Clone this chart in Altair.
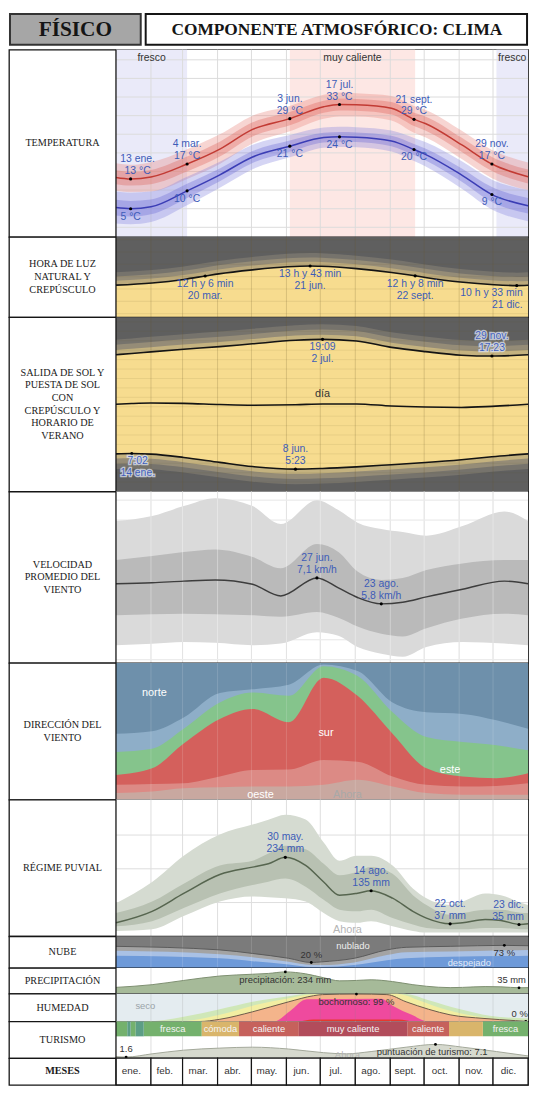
import altair as alt
import pandas as pd

# ---------------- data ----------------
MONTHS = ["ene.", "feb.", "mar.", "abr.", "may.", "jun.", "jul.", "ago.", "sept.", "oct.", "nov.", "dic."]
MONTH_START = [0, 31, 59, 90, 120, 151, 181, 212, 243, 273, 304, 334]
MONTH_END = [31, 59, 90, 120, 151, 181, 212, 243, 273, 304, 334, 365]
GRID_DAYS = MONTH_START[1:]

# temperature (°C)
TEMP_DAYS = [0, 13, 31, 63, 92, 121, 154, 184, 198, 213, 244, 264, 274, 306, 333, 365]
TEMP_HIGH = [13.4, 13.0, 13.5, 17.0, 21.0, 26.3, 29.2, 32.4, 33.0, 32.9, 32.0, 29.0, 27.9, 22.2, 17.0, 13.6]
HIGH_P90 = [17.2, 16.8, 17.5, 21.0, 25.0, 30.0, 32.6, 35.6, 36.2, 36.0, 35.3, 32.6, 31.6, 26.0, 20.8, 17.4]
HIGH_P75 = [15.3, 14.9, 15.4, 19.0, 23.0, 28.2, 31.0, 34.0, 34.6, 34.5, 33.7, 30.8, 29.8, 24.1, 18.9, 15.5]
HIGH_P25 = [11.6, 11.2, 11.6, 15.0, 19.0, 24.4, 27.4, 30.8, 31.4, 31.3, 30.3, 27.2, 26.0, 20.3, 15.1, 11.8]
HIGH_P10 = [9.8, 9.4, 9.6, 13.0, 17.0, 22.5, 25.8, 29.2, 29.8, 29.8, 28.7, 25.4, 24.2, 18.4, 13.2, 10.0]
TEMP_LOW = [5.3, 5.0, 5.5, 9.8, 14.1, 18.9, 21.8, 24.1, 24.3, 24.2, 23.2, 20.9, 19.6, 14.1, 8.8, 5.8]
LOW_P90 = [9.6, 9.3, 9.6, 13.6, 17.6, 22.2, 24.8, 26.8, 27.0, 26.9, 26.0, 24.0, 22.9, 17.8, 12.8, 10.0]
LOW_P75 = [7.4, 7.1, 7.5, 11.7, 15.8, 20.5, 23.3, 25.4, 25.6, 25.5, 24.6, 22.4, 21.2, 15.9, 10.8, 7.9]
LOW_P25 = [3.2, 2.9, 3.5, 7.9, 12.4, 17.3, 20.3, 22.8, 23.0, 22.9, 21.8, 19.4, 18.0, 12.3, 6.8, 3.7]
LOW_P10 = [1.0, 0.8, 1.4, 5.9, 10.6, 15.6, 18.8, 21.4, 21.6, 21.5, 20.4, 17.8, 16.4, 10.4, 4.8, 1.6]
HIGH_NOTE_DAYS = [13, 63, 154, 198, 264, 333]
HIGH_NOTE_VALS = [13.0, 17.0, 29.2, 33.0, 29.0, 17.0]
HIGH_NOTE_TEXT = ["13 ene.\n13 °C", "4 mar.\n17 °C", "3 jun.\n29 °C", "17 jul.\n33 °C", "21 sept.\n29 °C", "29 nov.\n17 °C"]
LOW_NOTE_DAYS = [13, 63, 154, 198, 264, 333]
LOW_NOTE_VALS = [5.0, 9.8, 21.8, 24.3, 20.9, 8.8]
LOW_NOTE_TEXT = ["5 °C", "10 °C", "21 °C", "24 °C", "20 °C", "9 °C"]
ZONE_NAME = ["fresco", "muy caliente", "fresco"]
ZONE_START = [0, 154, 337]
ZONE_END = [63, 265, 365]

# daylight (hours)
LUZ_DAYS = [0, 32, 60, 79, 91, 121, 152, 172, 182, 213, 244, 265, 274, 305, 335, 355, 365]
LUZ_HOURS = [10.62, 10.98, 11.55, 12.10, 12.45, 13.10, 13.60, 13.72, 13.68, 13.30, 12.68, 12.13, 11.87, 11.12, 10.68, 10.55, 10.60]
LUZ_NOTE_DAYS = [79, 172, 265, 355]
LUZ_NOTE_VALS = [12.10, 13.72, 12.13, 10.55]
LUZ_NOTE_TEXT = ["12 h y 6 min\n20 mar.", "13 h y 43 min\n21 jun.", "12 h y 8 min\n22 sept.", "10 h y 33 min\n21 dic."]

# sunrise / sunset (hour of day)
SOL_DAYS = [0, 14, 31, 60, 92, 121, 159, 183, 213, 244, 274, 306, 333, 365]
SUNRISE = [7.00, 7.03, 6.97, 6.62, 6.10, 5.65, 5.38, 5.45, 5.62, 5.85, 6.08, 6.38, 6.70, 7.00]
SUNSET = [17.52, 17.65, 17.82, 18.10, 18.38, 18.68, 19.05, 19.15, 18.98, 18.30, 17.85, 17.47, 17.38, 17.52]
SOL_NOTE_DAYS = [183, 333, 159, 14]
SOL_NOTE_VALS = [19.15, 17.38, 5.38, 7.03]
SOL_NOTE_TEXT = ["19:09\n2 jul.", "29 nov.\n17:23", "8 jun.\n5:23", "7:02\n14 ene."]

# wind speed (km/h)
VEL_DAYS = [0, 32, 60, 88, 121, 146, 178, 197, 214, 235, 254, 275, 307, 344, 365]
VEL_AVG = [6.81, 6.86, 6.94, 7.00, 6.78, 6.20, 7.10, 6.60, 6.12, 5.80, 5.88, 6.15, 6.53, 6.94, 6.81]
VEL_P75 = [8.00, 8.20, 8.40, 8.53, 8.15, 7.58, 8.80, 8.40, 7.42, 7.00, 7.10, 7.50, 7.83, 8.00, 8.00]
VEL_P25 = [5.23, 5.28, 5.31, 5.28, 5.23, 5.15, 5.39, 5.10, 4.66, 4.30, 4.17, 4.58, 5.07, 5.31, 5.23]
VEL_P90 = [9.95, 10.20, 10.70, 11.10, 10.70, 9.80, 11.00, 10.50, 9.87, 9.55, 9.40, 9.22, 9.70, 10.43, 9.95]
VEL_P10 = [3.73, 3.80, 3.89, 3.85, 3.73, 3.81, 4.38, 4.20, 3.64, 3.30, 3.15, 3.64, 3.89, 3.81, 3.73]
VEL_NOTE_DAYS = [178, 235]
VEL_NOTE_VALS = [7.1, 5.8]
VEL_NOTE_TEXT = ["27 jun.\n7,1 km/h", "23 ago.\n5,8 km/h"]

# wind direction (cumulative % from bottom)
DIR_DAYS = [0, 32, 60, 92, 121, 153, 184, 214, 245, 275, 307, 337, 365]
DIR_OESTE = [4.8, 6.0, 8.4, 9.0, 9.6, 9.6, 10.8, 14.5, 9.6, 4.8, 3.6, 3.6, 3.6]
DIR_SUR_CLARO = [10.8, 11.5, 12.0, 17.0, 21.7, 22.0, 28.9, 27.7, 16.9, 10.8, 9.6, 10.0, 12.0]
DIR_SUR = [18.1, 22.9, 41.0, 59.0, 66.3, 56.6, 89.2, 75.9, 48.2, 22.9, 16.9, 15.7, 19.3]
DIR_ESTE = [34.9, 37.3, 51.8, 71.0, 78.3, 75.9, 97.6, 90.4, 63.9, 45.8, 42.2, 39.8, 36.1]
DIR_NORTE_CLARO = [48.2, 50.0, 60.0, 78.0, 80.7, 84.0, 98.8, 94.0, 71.0, 63.9, 62.7, 58.0, 51.8]
DIR_LABEL_TEXT = ["norte", "sur", "este", "oeste"]
DIR_LABEL_DAY = [34, 186, 296, 128]
DIR_LABEL_PCT = [78, 49, 22, 3.5]

# rainfall (mm)
LLU_DAYS = [0, 32, 60, 92, 121, 135, 150, 168, 184, 198, 213, 226, 245, 263, 275, 296, 307, 327, 341, 358, 365]
LLU_MID = [40, 74, 127, 183, 205, 215, 234, 210, 161, 122, 127, 135, 113, 74, 54, 37, 40, 50, 47, 35, 37]
LLU_P75 = [69, 103, 156, 210, 224, 245, 268, 258, 215, 181, 190, 205, 185, 122, 93, 64, 69, 79, 79, 70, 69]
LLU_P25 = [30, 45, 84, 127, 152, 162, 171, 147, 108, 79, 74, 79, 54, 35, 25, 21, 21, 25, 25, 21, 21]
LLU_P90 = [98, 161, 239, 302, 331, 345, 360, 346, 278, 224, 239, 239, 210, 142, 113, 93, 103, 127, 122, 100, 93]
LLU_P10 = [16, 21, 60, 103, 118, 116, 113, 103, 69, 45, 40, 45, 30, 16, 11, 11, 11, 11, 11, 11, 11]
LLU_NOTE_DAYS = [150, 226, 296, 357]
LLU_NOTE_VALS = [234, 135, 37, 35]
LLU_NOTE_TEXT = ["30 may.\n234 mm", "14 ago.\n135 mm", "22 oct.\n37 mm", "23 dic.\n35 mm"]
AHORA_DAY = 205

# clouds (%)
NUB_DAYS = [0, 92, 121, 153, 173, 182, 211, 240, 257, 296, 344, 365]
NUB_CLOUD = [70, 59, 48, 33, 20, 22, 33, 59, 67, 70, 73, 72]
NUB_MID = [56, 45.5, 36, 22, 12, 12, 20, 43, 52, 54, 58, 59]
NUB_CLEAR = [41, 33, 24, 14, 6, 6, 12, 27, 33, 38, 40, 41]
NUB_NOTE_DAYS = [173, 344]
NUB_NOTE_VALS = [20, 73]
NUB_NOTE_TEXT = ["20 %", "73 %"]

# humidity comfort levels (% from bottom)
HUM_GREEN_DAYS = [0, 26, 60, 92, 121, 153, 169, 255, 277, 305, 331, 365]
HUM_GREEN = [0, 0, 17, 44, 71, 91, 100, 100, 77, 44, 21, 11]
HUM_YELLOW_DAYS = [0, 54, 92, 121, 153, 175, 249, 268, 291, 311, 340, 365]
HUM_YELLOW = [0, 0, 24, 57, 84, 98, 100, 77, 44, 24, 8, 0]
HUM_MUGGY_DAYS = [0, 74, 92, 121, 153, 175, 183, 213, 240, 257, 277, 296, 326, 354, 365]
HUM_MUGGY = [0, 0, 8, 35, 71, 93, 97, 99, 97, 71, 44, 24, 11, 3, 0]
HUM_PINK_DAYS = [0, 140, 154, 169, 235, 245, 262, 277, 365]
HUM_PINK = [0, 0, 37, 80, 82, 57, 24, 0, 0]
HUM_RED_DAYS = [0, 160, 175, 250, 265, 365]
HUM_RED = [0, 0, 7, 7, 0, 0]

# tourism
TUR_SEG_START = [0, 10, 13, 17.5, 24.6, 76, 109, 162, 258, 295, 325]
TUR_SEG_END = [10, 13, 17.5, 24.6, 76, 109, 162, 258, 295, 325, 365]
TUR_SEG_CAT = ["fresca", "fría", "fresca", "fría", "fresca", "cómoda", "caliente", "muy caliente", "caliente", "cómoda", "fresca"]
TUR_SEG_TEXT = ["", "", "", "", "fresca", "cómoda", "caliente", "muy caliente", "caliente", "", "fresca"]
TUR_DAYS = [0, 9, 32, 60, 92, 121, 153, 184, 204, 226, 257, 283, 307, 337, 365]
TUR_SCORE = [1.8, 1.6, 3.0, 4.6, 5.5, 5.9, 5.1, 3.5, 3.0, 4.0, 5.9, 7.1, 5.9, 4.0, 2.1]

ROW_TEXT = {
    "temp": "TEMPERATURA",
    "luz": "HORA DE LUZ\nNATURAL Y\nCREPÚSCULO",
    "sol": "SALIDA DE SOL Y\nPUESTA DE SOL\nCON\nCREPÚSCULO  Y\nHORARIO DE\nVERANO",
    "vel": "VELOCIDAD\nPROMEDIO DEL\nVIENTO",
    "dir": "DIRECCIÓN DEL\nVIENTO",
    "llu": "RÉGIME PUVIAL",
    "nub": "NUBE",
    "pre": "PRECIPITACIÓN",
    "hum": "HUMEDAD",
    "tur": "TURISMO",
    "mes": "MESES",
}
HEAD_LEFT = "FÍSICO"
HEAD_RIGHT = "COMPONENTE ATMOSFÓRICO: CLIMA"

# ---------------- layout / style ----------------
W_LAB, W_TOT = 108, 524
H_HEAD = 37
H = {"temp": 189, "luz": 81, "sol": 176, "vel": 173, "dir": 138, "llu": 138,
     "nub": 32, "pre": 26, "hum": 28, "tur": 37, "mes": 27}
TUR_BAND_PX = 15
SANS = "Liberation Sans"
SERIF = "Liberation Serif"
LBL = "#3d5cb8"
EDGE = "#151515"
LH = 12
ROW_FONT = 10.3
ROW_LH = 12.8

T_DOM = [-2.6, 47.7]
LUZ_DOM = [5.42, 18.43]
SOL_DOM = [3.0, 21.5]
VEL_DOM = [2.84, 11.43]
DIR_DOM = [0, 100]
LLU_DOM = [0, 405]
NUB_DOM = [3, 101]
PRE_DOM = [-40, 283]
HUM_DOM = [0, 100]
TUR_DOM = [1.13, 17.06]

ONE = pd.DataFrame({"k": [0]})


def X(field="day"):
    return alt.X(f"{field}:Q", scale=alt.Scale(domain=[0, 365], range=[W_LAB, W_TOT], nice=False, zero=False),
                 axis=None)


def Y(field, dom):
    return alt.Y(f"{field}:Q", scale=alt.Scale(domain=dom, nice=False, zero=False), axis=None)


def vgrid(color="#dedede", width=1.0, opacity=1.0):
    return alt.Chart(pd.DataFrame({"day": GRID_DAYS})).mark_rule(
        color=color, strokeWidth=width, opacity=opacity).encode(x=X())


def hgrid(vals, dom, color="#dedede", width=1.0, opacity=1.0):
    return alt.Chart(pd.DataFrame({"g": vals})).mark_rule(
        color=color, strokeWidth=width, opacity=opacity).encode(
        y=Y("g", dom), x=alt.value(W_LAB), x2=alt.value(W_TOT))


def band(days, lo, hi, dom, color, opacity=1.0):
    df = pd.DataFrame({"day": days, "lo": lo, "hi": hi})
    return alt.Chart(df).mark_area(color=color, opacity=opacity, interpolate="monotone").encode(
        x=X(), y=Y("hi", dom), y2="lo:Q")


def fill_below(days, vals, dom, color, opacity=1.0):
    df = pd.DataFrame({"day": days, "v": vals})
    return alt.Chart(df).mark_area(color=color, opacity=opacity, interpolate="monotone").encode(
        x=X(), y=Y("v", dom), y2=alt.datum(dom[0]))


def offset_band(days, vals, dom, off_a, off_b, color):
    df = pd.DataFrame({"day": days, "v": vals})
    return alt.Chart(df).transform_calculate(
        a=f"datum.v + ({off_a})", b=f"datum.v + ({off_b})"
    ).mark_area(color=color, interpolate="monotone").encode(x=X(), y=Y("b", dom), y2="a:Q")


def curve(days, vals, dom, color, width=1.5):
    df = pd.DataFrame({"day": days, "v": vals})
    return alt.Chart(df).mark_line(color=color, strokeWidth=width, interpolate="monotone").encode(
        x=X(), y=Y("v", dom))


def dots(days, vals, dom, size=10):
    df = pd.DataFrame({"day": days, "v": vals})
    return alt.Chart(df).mark_circle(color="#000", size=size, opacity=1).encode(x=X(), y=Y("v", dom))


def notes(days, vals, texts, dom, where="above", align="center", dx=0, color=LBL, size=10.5, halo=None):
    df = pd.DataFrame({"day": days, "v": vals, "t": texts})
    n = max(t.count("\n") for t in texts)
    baseline = {"above": "bottom", "below": "top", "mid": "middle"}[where]
    dy = {"above": -3 - n * LH, "below": 3, "mid": -n * LH / 2}[where]
    common = dict(align=align, baseline=baseline, dx=dx, dy=dy, lineBreak="\n", lineHeight=LH,
                  font=SANS, fontSize=size)
    enc = dict(x=X(), y=Y("v", dom), text="t:N")
    top = alt.Chart(df).mark_text(color=color, **common).encode(**enc)
    if halo is None:
        return top
    under = alt.Chart(df).mark_text(color=halo, stroke=halo, strokeWidth=2.5, strokeOpacity=0.75,
                                    **common).encode(**enc)
    return alt.layer(under, top)


def row(key, layers, fill="white"):
    h = H[key]
    text = ROW_TEXT[key]
    n = text.count("\n")
    bg = alt.Chart(ONE).mark_rect(color=fill).encode(
        x=alt.value(W_LAB), x2=alt.value(W_TOT), y=alt.value(0), y2=alt.value(h))
    sep = alt.Chart(ONE).mark_rule(color=EDGE, strokeWidth=1.3).encode(
        x=alt.value(W_LAB), y=alt.value(0), y2=alt.value(h))
    lab = alt.Chart(pd.DataFrame({"t": [text]})).mark_text(
        font=SERIF, fontSize=ROW_FONT, lineBreak="\n", lineHeight=ROW_LH, color="#1a1a1a",
        fontWeight="bold" if key == "mes" else "normal", align="center", baseline="middle",
        dy=-n * ROW_LH / 2).encode(text="t:N", x=alt.value(W_LAB / 2), y=alt.value(h / 2))
    return alt.layer(bg, *layers, sep, lab).properties(
        width=W_TOT, height=h, view=alt.ViewBackground(fill="white", stroke=EDGE, strokeWidth=1.3))


# ---------------- temperature ----------------
zones = pd.DataFrame({"zone": ZONE_NAME, "s": ZONE_START, "e": ZONE_END})


def zone_rect(name, color):
    return alt.Chart(zones).transform_filter(alt.datum.zone == name).mark_rect(color=color).encode(
        x=X("s"), x2="e:Q")


temp = row("temp", [
    zone_rect("fresco", "#eaeaf9"),
    zone_rect("muy caliente", "#fde7e4"),
    vgrid("#dcdcdc"),
    hgrid(list(range(0, 50, 5)), T_DOM, "#dcdcdc"),
    band(TEMP_DAYS, HIGH_P10, HIGH_P90, T_DOM, "#e8877f", 0.35),
    band(TEMP_DAYS, HIGH_P25, HIGH_P75, T_DOM, "#d9534a", 0.3),
    band(TEMP_DAYS, LOW_P10, LOW_P90, T_DOM, "#8886e0", 0.35),
    band(TEMP_DAYS, LOW_P25, LOW_P75, T_DOM, "#5b58cf", 0.3),
    curve(TEMP_DAYS, TEMP_HIGH, T_DOM, "#c23b34"),
    curve(TEMP_DAYS, TEMP_LOW, T_DOM, "#3b3db5"),
    dots(HIGH_NOTE_DAYS, HIGH_NOTE_VALS, T_DOM),
    dots(LOW_NOTE_DAYS, LOW_NOTE_VALS, T_DOM),
    notes(HIGH_NOTE_DAYS[:1], HIGH_NOTE_VALS[:1], HIGH_NOTE_TEXT[:1], T_DOM, "above", dx=7),
    notes(HIGH_NOTE_DAYS[1:], HIGH_NOTE_VALS[1:], HIGH_NOTE_TEXT[1:], T_DOM, "above"),
    notes(LOW_NOTE_DAYS, LOW_NOTE_VALS, LOW_NOTE_TEXT, T_DOM, "below"),
    alt.Chart(zones).transform_calculate(mid="(datum.s + datum.e) / 2").mark_text(
        font=SANS, fontSize=10.5, color="#333", baseline="middle").encode(
        x=X("mid"), y=alt.value(8), text="zone:N"),
])

# ---------------- daylight ----------------
luz = row("luz", [
    offset_band(LUZ_DAYS, LUZ_HOURS, LUZ_DOM, 0, 2.1, "#76736c"),
    offset_band(LUZ_DAYS, LUZ_HOURS, LUZ_DOM, 0, 1.4, "#958c77"),
    offset_band(LUZ_DAYS, LUZ_HOURS, LUZ_DOM, 0, 0.7, "#bba97c"),
    fill_below(LUZ_DAYS, LUZ_HOURS, LUZ_DOM, "#f7dc8f"),
    vgrid("#6b5a2a", 1, 0.22),
    hgrid([6, 8, 10, 12, 14, 16, 18], LUZ_DOM, "#6b5a2a", 1, 0.12),
    curve(LUZ_DAYS, LUZ_HOURS, LUZ_DOM, "#141414", 1.6),
    dots(LUZ_NOTE_DAYS, LUZ_NOTE_VALS, LUZ_DOM),
    notes(LUZ_NOTE_DAYS[:3], LUZ_NOTE_VALS[:3], LUZ_NOTE_TEXT[:3], LUZ_DOM, "below"),
    notes(LUZ_NOTE_DAYS[3:], LUZ_NOTE_VALS[3:], LUZ_NOTE_TEXT[3:], LUZ_DOM, "below", align="right", dx=6),
], fill="#5f5f5f")

# ---------------- sunrise / sunset ----------------
sol_df = pd.DataFrame({"day": SOL_DAYS, "rise": SUNRISE, "set": SUNSET})
sol = row("sol", [
    offset_band(SOL_DAYS, SUNSET, SOL_DOM, 0, 1.6, "#76736c"),
    offset_band(SOL_DAYS, SUNSET, SOL_DOM, 0, 1.05, "#958c77"),
    offset_band(SOL_DAYS, SUNSET, SOL_DOM, 0, 0.5, "#c4b27f"),
    offset_band(SOL_DAYS, SUNRISE, SOL_DOM, -1.6, 0, "#76736c"),
    offset_band(SOL_DAYS, SUNRISE, SOL_DOM, -1.05, 0, "#958c77"),
    offset_band(SOL_DAYS, SUNRISE, SOL_DOM, -0.5, 0, "#c4b27f"),
    band(SOL_DAYS, SUNRISE, SUNSET, SOL_DOM, "#f7dc8f"),
    vgrid("#6b5a2a", 1, 0.22),
    hgrid(list(range(4, 22)), SOL_DOM, "#6b5a2a", 1, 0.1),
    curve(SOL_DAYS, SUNSET, SOL_DOM, "#141414", 1.6),
    curve(SOL_DAYS, SUNRISE, SOL_DOM, "#141414", 1.6),
    alt.Chart(sol_df).transform_calculate(noon="(datum.rise + datum.set) / 2").mark_line(
        color="#141414", strokeWidth=1.6, interpolate="monotone").encode(x=X(), y=Y("noon", SOL_DOM)),
    dots(SOL_NOTE_DAYS, SOL_NOTE_VALS, SOL_DOM),
    notes(SOL_NOTE_DAYS[0:1], SOL_NOTE_VALS[0:1], SOL_NOTE_TEXT[0:1], SOL_DOM, "below"),
    notes(SOL_NOTE_DAYS[1:2], SOL_NOTE_VALS[1:2], SOL_NOTE_TEXT[1:2], SOL_DOM, "above", halo="#dfe3f0"),
    notes(SOL_NOTE_DAYS[2:3], SOL_NOTE_VALS[2:3], SOL_NOTE_TEXT[2:3], SOL_DOM, "above"),
    notes(SOL_NOTE_DAYS[3:], SOL_NOTE_VALS[3:], SOL_NOTE_TEXT[3:], SOL_DOM, "below", dx=6, halo="#dfe3f0"),
    notes([183], [13.3], ["día"], SOL_DOM, "mid", color="#333", size=11),
], fill="#5f5f5f")

# ---------------- wind speed ----------------
vel = row("vel", [
    vgrid("#d6d6d6"),
    hgrid(list(range(3, 12)), VEL_DOM, "#e6e6e6"),
    band(VEL_DAYS, VEL_P10, VEL_P90, VEL_DOM, "#dadada"),
    band(VEL_DAYS, VEL_P25, VEL_P75, VEL_DOM, "#bababa"),
    vgrid("#ffffff", 1, 0.35),
    curve(VEL_DAYS, VEL_AVG, VEL_DOM, "#3d3d3d", 1.5),
    dots(VEL_NOTE_DAYS, VEL_NOTE_VALS, VEL_DOM),
    notes(VEL_NOTE_DAYS, VEL_NOTE_VALS, VEL_NOTE_TEXT, VEL_DOM, "above"),
])

# ---------------- wind direction ----------------
dirw = row("dir", [
    fill_below(DIR_DAYS, DIR_NORTE_CLARO, DIR_DOM, "#8eaec8"),
    fill_below(DIR_DAYS, DIR_ESTE, DIR_DOM, "#85c48c"),
    fill_below(DIR_DAYS, DIR_SUR, DIR_DOM, "#d4605c"),
    fill_below(DIR_DAYS, DIR_SUR_CLARO, DIR_DOM, "#dc8a85"),
    fill_below(DIR_DAYS, DIR_OESTE, DIR_DOM, "#c9a8a0"),
    vgrid("#ffffff", 1, 0.15),
    notes(DIR_LABEL_DAY, DIR_LABEL_PCT, DIR_LABEL_TEXT, DIR_DOM, "mid", color="#ffffff", size=11),
    notes([AHORA_DAY], [3.5], ["Ahora"], DIR_DOM, "mid", color="#a8a8a8", size=11),
], fill="#6e90ab")

# ---------------- rainfall ----------------
llu = row("llu", [
    vgrid("#dedede"),
    hgrid([100, 200, 300], LLU_DOM, "#dedede"),
    band(LLU_DAYS, LLU_P10, LLU_P90, LLU_DOM, "#d5dbd1"),
    band(LLU_DAYS, LLU_P25, LLU_P75, LLU_DOM, "#b8c1b2"),
    curve(LLU_DAYS, LLU_MID, LLU_DOM, "#56654f", 1.5),
    dots(LLU_NOTE_DAYS, LLU_NOTE_VALS, LLU_DOM),
    notes(LLU_NOTE_DAYS[:3], LLU_NOTE_VALS[:3], LLU_NOTE_TEXT[:3], LLU_DOM, "above"),
    notes(LLU_NOTE_DAYS[3:], LLU_NOTE_VALS[3:], LLU_NOTE_TEXT[3:], LLU_DOM, "above", align="right", dx=5),
    notes([AHORA_DAY], [20], ["Ahora"], LLU_DOM, "mid", color="#b5b5b5", size=11),
])

# ---------------- clouds ----------------
nub = row("nub", [
    fill_below(NUB_DAYS, NUB_CLOUD, NUB_DOM, "#a3a3a3"),
    fill_below(NUB_DAYS, NUB_MID, NUB_DOM, "#a9c1e5"),
    fill_below(NUB_DAYS, NUB_CLEAR, NUB_DOM, "#6e9ad9"),
    vgrid("#ffffff", 1, 0.15),
    curve(NUB_DAYS, NUB_CLOUD, NUB_DOM, "#5a5a5a", 1),
    dots(NUB_NOTE_DAYS, NUB_NOTE_VALS, NUB_DOM, 8),
    notes(NUB_NOTE_DAYS[:1], NUB_NOTE_VALS[:1], NUB_NOTE_TEXT[:1], NUB_DOM, "above", color="#333", size=9.5),
    notes(NUB_NOTE_DAYS[1:], NUB_NOTE_VALS[1:], NUB_NOTE_TEXT[1:], NUB_DOM, "below", color="#333", size=9.5),
    notes([210], [70], ["nublado"], NUB_DOM, "mid", color="#eeeeee", size=9.5),
    notes([313], [17], ["despejado"], NUB_DOM, "mid", color="#e2ebf8", size=9.5),
], fill="#7b7b7b")

# ---------------- precipitation strip ----------------
pre = row("pre", [
    vgrid("#e2e2e2"),
    fill_below(LLU_DAYS, LLU_MID, PRE_DOM, "#a6ba99"),
    curve(LLU_DAYS, LLU_MID, PRE_DOM, "#7d8f70", 1),
    dots([150, 357], [234, 35], PRE_DOM, 8),
    notes([150], [234], ["precipitación: 234 mm"], PRE_DOM, "below", color="#333", size=9.5),
    notes([357], [35], ["35 mm"], PRE_DOM, "above", align="right", dx=7, color="#333", size=9.5),
])

# ---------------- humidity strip ----------------
hum = row("hum", [
    fill_below(HUM_GREEN_DAYS, HUM_GREEN, HUM_DOM, "#cfe7b8"),
    fill_below(HUM_YELLOW_DAYS, HUM_YELLOW, HUM_DOM, "#f3eea2"),
    fill_below(HUM_MUGGY_DAYS, HUM_MUGGY, HUM_DOM, "#f4b48b"),
    fill_below(HUM_PINK_DAYS, HUM_PINK, HUM_DOM, "#ef4a9e"),
    fill_below(HUM_RED_DAYS, HUM_RED, HUM_DOM, "#e8382e"),
    vgrid("#8a8a8a", 1, 0.2),
    curve(HUM_MUGGY_DAYS, HUM_MUGGY, HUM_DOM, "#6b5a4a", 1),
    dots([213, 363], [99, 0], HUM_DOM, 8),
    notes([26], [55], ["seco"], HUM_DOM, "mid", color="#9aa3a8", size=9.5),
    notes([213], [99], ["bochornoso: 99 %"], HUM_DOM, "below", color="#333", size=9.5),
    notes([363], [0], ["0 %"], HUM_DOM, "above", align="right", dx=2, color="#333", size=9.5),
], fill="#e4ecf0")

# ---------------- tourism ----------------
tur_seg = pd.DataFrame({"s": TUR_SEG_START, "e": TUR_SEG_END, "cat": TUR_SEG_CAT, "t": TUR_SEG_TEXT})
TUR_COLORS = {"fresca": "#74b16d", "fría": "#5c9e86", "cómoda": "#d9b56b",
              "caliente": "#c6615c", "muy caliente": "#b24c5b"}


def tur_rect(cat):
    return alt.Chart(tur_seg).transform_filter(alt.datum.cat == cat).mark_rect(
        color=TUR_COLORS[cat]).encode(x=X("s"), x2="e:Q", y=alt.value(0), y2=alt.value(TUR_BAND_PX))


tur = row("tur", [
    vgrid("#dedede"),
    fill_below(TUR_DAYS, TUR_SCORE, TUR_DOM, "#d6d9ce"),
    curve(TUR_DAYS, TUR_SCORE, TUR_DOM, "#a3a89a", 1),
    *[tur_rect(c) for c in TUR_COLORS],
    alt.Chart(tur_seg).transform_calculate(mid="(datum.s + datum.e) / 2").mark_text(
        font=SANS, fontSize=9.5, color="#f4f4f4", baseline="middle").encode(
        x=X("mid"), y=alt.value(TUR_BAND_PX / 2), text="t:N"),
    dots([9, 283], [1.6, 7.1], TUR_DOM, 8),
    notes([9], [1.6], ["1.6"], TUR_DOM, "above", color="#333", size=9.5),
    notes([280], [7.1], ["puntuación de turismo: 7.1"], TUR_DOM, "below", color="#333", size=9.5),
    notes([AHORA_DAY], [2.3], ["Ahora"], TUR_DOM, "mid", color="#b5b5b5", size=9.5),
])

# ---------------- months ----------------
mes_df = pd.DataFrame({"s": MONTH_START, "e": MONTH_END, "m": MONTHS})
mes = row("mes", [
    alt.Chart(mes_df).mark_rect(fill="white", stroke=EDGE, strokeWidth=1.2).encode(x=X("s"), x2="e:Q"),
    alt.Chart(mes_df).transform_calculate(mid="(datum.s + datum.e) / 2").mark_text(
        font=SANS, fontSize=10, color="#333", baseline="middle", dx=-2).encode(
        x=X("mid"), y=alt.value(H["mes"] / 2), text="m:N"),
])

# ---------------- header ----------------
header = alt.layer(
    alt.Chart(ONE).mark_rect(fill="#a6a6a6", stroke="#333333", strokeWidth=2).encode(
        x=alt.value(1), x2=alt.value(133), y=alt.value(1), y2=alt.value(32)),
    alt.Chart(ONE).mark_rect(fill="white", stroke=EDGE, strokeWidth=2).encode(
        x=alt.value(138), x2=alt.value(W_TOT - 1), y=alt.value(1), y2=alt.value(32)),
    alt.Chart(pd.DataFrame({"t": [HEAD_LEFT]})).mark_text(
        font=SERIF, fontSize=21.5, fontWeight="bold", color="#151515", baseline="middle").encode(
        text="t:N", x=alt.value(67), y=alt.value(17)),
    alt.Chart(pd.DataFrame({"t": [HEAD_RIGHT]})).mark_text(
        font=SERIF, fontSize=17.5, fontWeight="bold", color="#151515", baseline="middle").encode(
        text="t:N", x=alt.value((138 + W_TOT) / 2), y=alt.value(17)),
).properties(width=W_TOT, height=H_HEAD,
             view=alt.ViewBackground(fill="white", stroke="transparent", strokeWidth=0))

chart = alt.vconcat(header, temp, luz, sol, vel, dirw, llu, nub, pre, hum, tur, mes,
                    spacing=0, bounds="flush").properties(padding=0).configure_view(
    stroke=EDGE, strokeWidth=1.3)

chart.save("out.html", embed_options={"renderer": "svg", "actions": False})
